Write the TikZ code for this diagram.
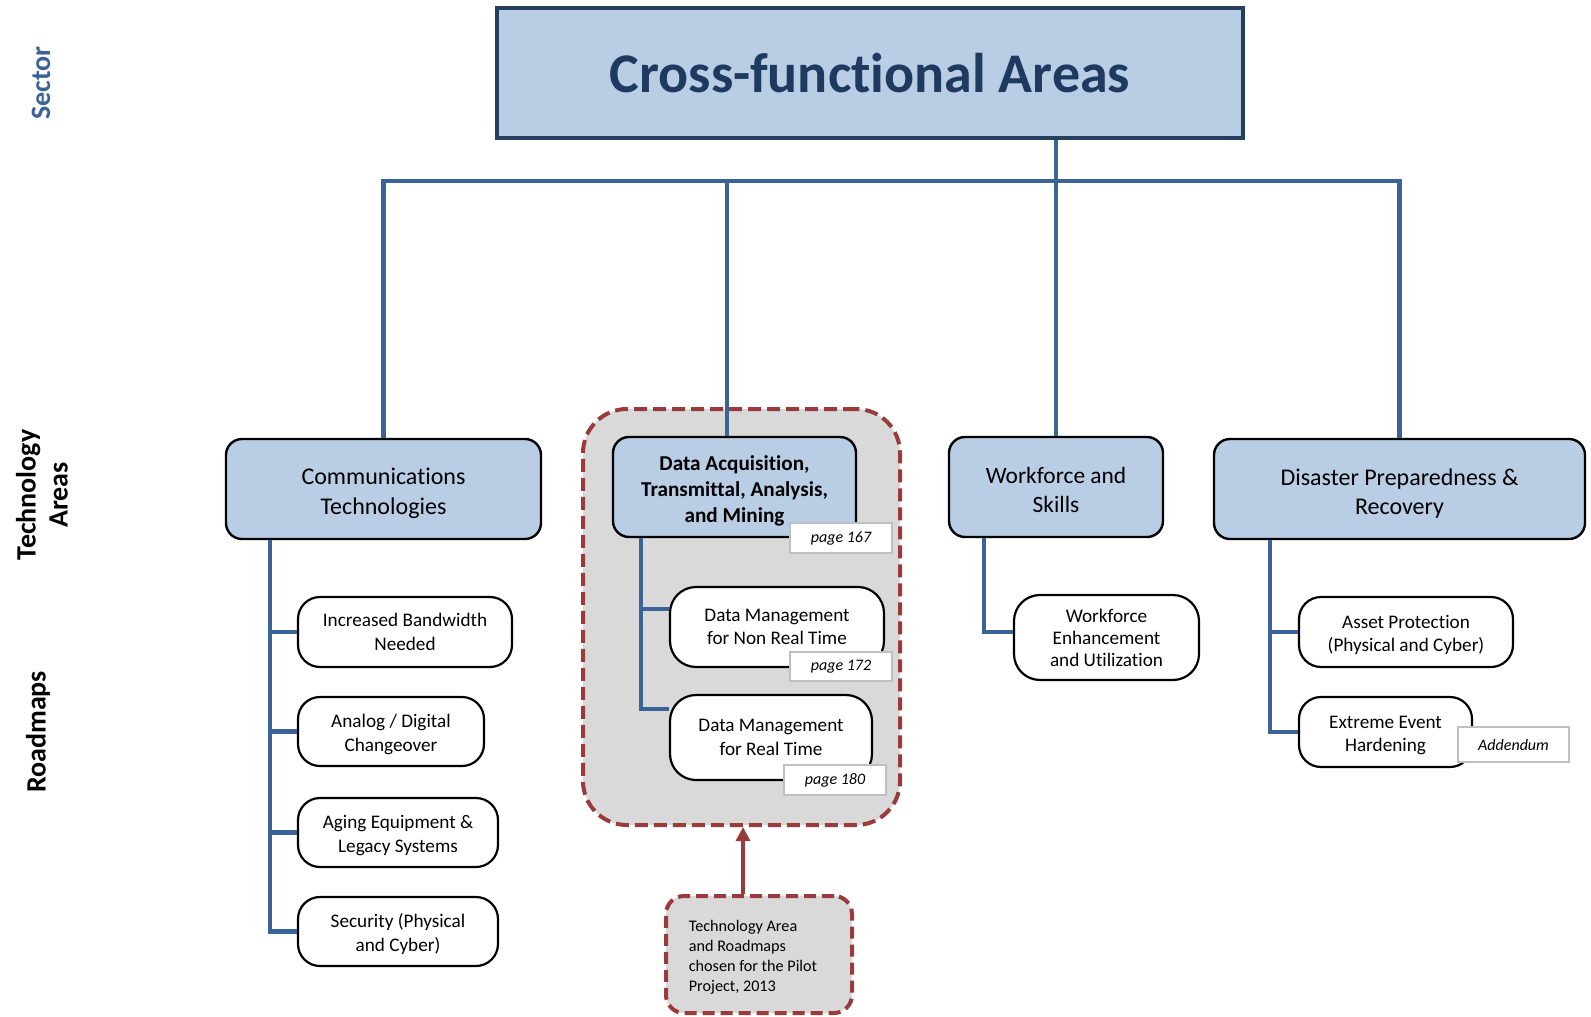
\documentclass[tikz,border=0pt]{standalone}
\usepackage{fontspec}
\setmainfont{Carlito}[Ligatures=CommonOff]
\usetikzlibrary{arrows.meta}
\definecolor{connblue}{HTML}{3A6398}
\definecolor{navy}{HTML}{263F5E}
\definecolor{titlecol}{HTML}{1F3A60}
\definecolor{techfill}{HTML}{B9CDE5}
\definecolor{pilotred}{HTML}{9A3B3B}
\definecolor{pilotgray}{HTML}{D9D9D9}
\definecolor{labelgray}{HTML}{BFBFBF}
\begin{document}
\begin{tikzpicture}[x=0.5pt,y=-0.5pt,
  conn/.style={draw=connblue, line width=2.2pt},
  topbox/.style={draw=navy, line width=2.2pt, fill=techfill, text=titlecol,
    font=\fontsize{28}{32}\selectfont\bfseries, inner sep=0pt},
  techbox/.style={draw=black, line width=1.2pt, fill=techfill, rounded corners=8pt,
    align=center, inner sep=2pt, font=\fontsize{12}{14.7}\selectfont},
  roadbox/.style={draw=black, line width=1.1pt, fill=white, rounded corners=11pt,
    align=center, inner sep=2pt, font=\fontsize{9.6}{11.7}\selectfont},
  pagebox/.style={draw=labelgray, line width=0.7pt, fill=white, inner sep=0pt,
    font=\fontsize{8}{9}\selectfont\itshape},
  sidelabel/.style={rotate=90, align=center, font=\fontsize{14}{16}\selectfont\bfseries},
  pilotregion/.style={draw=pilotred, line width=2pt, dash pattern=on 6.5pt off 3pt,
    fill=pilotgray, rounded corners=22pt, inner sep=0pt},
  pilotnote/.style={draw=pilotred, line width=2pt, dash pattern=on 6pt off 3pt,
    fill=pilotgray, rounded corners=9pt, align=left, inner sep=0pt,
    font=\fontsize{8.1}{9.9}\selectfont},
  pilotarrow/.style={draw=pilotred, line width=1.6pt, -{Triangle[length=7pt,width=7pt]}}
]
\useasboundingbox (0,0) rectangle (1591,1017);

% side labels
\node[sidelabel, text=connblue] (lsector) at (41,83) {Sector};
\node[sidelabel] (ltech) at (42,495) {Technology\\Areas};
\node[sidelabel] (lroad) at (38,732) {Roadmaps};

% pilot region background
\node[pilotregion, minimum width=158.5pt, minimum height=208pt] (reg) at (741.5,617) {};

% top box
\node[topbox, minimum width=373pt, minimum height=65pt] (top) at (870,73) {Cross-functional Areas};

% technology areas
\node[techbox, minimum width=157.5pt, minimum height=50pt] (comm) at (383.5,489) {\rule{0pt}{12.5pt}Communications\\Technologies};
\node[techbox, minimum width=121.5pt, minimum height=50pt,
  font=\fontsize{10.6}{12.9}\selectfont\bfseries] (dat) at (734.5,487) {\rule{0pt}{11pt}Data Acquisition,\\Transmittal, Analysis,\\and Mining};
\node[techbox, minimum width=107pt, minimum height=50pt,
  font=\fontsize{11.7}{14.2}\selectfont] (wf) at (1056,487) {\rule{0pt}{11pt}Workforce and\\Skills};
\node[techbox, minimum width=185.5pt, minimum height=50pt] (dis) at (1399.5,489) {\rule{0pt}{13pt}Disaster Preparedness \&\\Recovery};

% roadmaps
\node[roadbox, minimum width=107pt, minimum height=35pt] (r1) at (405,632) {Increased Bandwidth\\Needed};
\node[roadbox, minimum width=93pt, minimum height=34.5pt] (r2) at (391,731.5) {\rule{0pt}{9.5pt}Analog / Digital\\Changeover};
\node[roadbox, minimum width=100pt, minimum height=34.5pt] (r3) at (398,832.5) {\rule{0pt}{9.5pt}Aging Equipment \&\\Legacy Systems};
\node[roadbox, minimum width=100pt, minimum height=34.5pt] (r4) at (398,931.5) {\rule{0pt}{9.5pt}Security (Physical\\and Cyber)};

\node[roadbox, minimum width=107pt, minimum height=40pt, rounded corners=13pt] (d1) at (777,627) {Data Management\\for Non Real Time};
\node[roadbox, minimum width=101pt, minimum height=42.5pt, rounded corners=13pt] (d2) at (771,737.5) {Data Management\\for Real Time};

\node[roadbox, minimum width=92.5pt, minimum height=42.5pt, rounded corners=13pt,
  font=\fontsize{9.6}{11}\selectfont] (w1) at (1106.5,637.5) {Workforce\\Enhancement\\and Utilization};

\node[roadbox, minimum width=107pt, minimum height=35pt] (a1) at (1406,632) {\rule{0pt}{9.5pt}Asset Protection\\(Physical and Cyber)};
\node[roadbox, minimum width=86.5pt, minimum height=35pt] (a2) at (1385.5,732) {\rule{0pt}{9.5pt}Extreme Event\\Hardening};

% connectors
\coordinate (busl) at (384,181);
\draw[conn] (comm.north) -- (comm.north |- busl) -- (dis.north |- busl) -- (dis.north);
\draw[conn] ([xshift=93pt]top.south) -- (wf.north);
\draw[conn] ([xshift=-3.75pt]dat.north) -- ([xshift=-3.75pt]dat.north |- busl);

\coordinate (cs) at ([xshift=-56.75pt]comm.south);
\draw[conn] (cs) |- (r1.west);
\draw[conn] (cs) |- (r2.west);
\draw[conn] (cs) |- (r3.west);
\draw[conn] (cs) |- (r4.west);

\coordinate (ds) at ([xshift=-46.75pt]dat.south);
\draw[conn] (ds) |- ([yshift=9pt]d1.west);
\draw[conn] (ds) |- ([yshift=14.25pt]d2.west);

\coordinate (ws) at ([xshift=-36pt]wf.south);
\draw[conn] (ws) |- ([yshift=2.75pt]w1.west);

\coordinate (as) at ([xshift=-64.75pt]dis.south);
\draw[conn] (as) |- (a1.west);
\draw[conn] (as) |- (a2.west);

% page labels
\node[pagebox, minimum width=51pt, minimum height=15pt] (p1) at (841,538) {page 167};
\node[pagebox, minimum width=51pt, minimum height=14.5pt] (p2) at (841,666.5) {page 172};
\node[pagebox, minimum width=51pt, minimum height=15pt] (p3) at (835,780) {page 180};
\node[pagebox, minimum width=55.5pt, minimum height=17.5pt] (add) at (1513.5,744.5) {Addendum};

% pilot note
\node[pilotnote, minimum width=93pt, minimum height=58.5pt] (pil) at (759,954.5)
  {\begin{tabular}{@{}l@{}}\rule{0pt}{10pt}Technology Area\\and Roadmaps\\chosen for the Pilot\\Project, 2013\end{tabular}\hspace*{6pt}};
\draw[pilotarrow] ([xshift=-8pt]pil.north) -- ([xshift=-8pt]pil.north |- reg.south);
\end{tikzpicture}
\end{document}
